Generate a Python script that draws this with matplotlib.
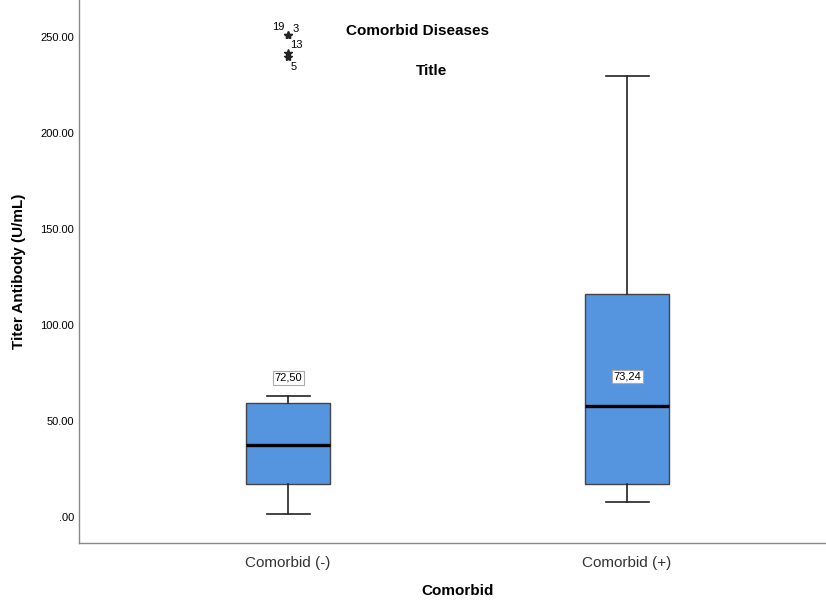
import matplotlib
matplotlib.use("Agg")
import matplotlib.pyplot as plt

plt.rcParams['font.family'] = ['Liberation Sans', 'DejaVu Sans']

categories = ["Comorbid (-)", "Comorbid (+)"]
whisker_low = [1.6, 7.8]
q1 = [17.2, 17.2]
median = [37.5, 57.8]
q3 = [59.4, 116.1]
whisker_high = [63.0, 229.7]
means = [72.50, 73.24]
mean_labels = ["72,50", "73,24"]
outlier_values = [251.0, 251.0, 241.5, 239.5]
outlier_ids = ["19", "3", "13", "5"]
yticks = [0, 50, 100, 150, 200, 250]
ytick_labels = [".00", "50.00", "100.00", "150.00", "200.00", "250.00"]

fig = plt.figure(figsize=(8.26, 6.0), dpi=100)
ax = fig.add_axes([79/826, 57/600, 747/826, 543/600])

stats = []
for i, c in enumerate(categories):
    stats.append(dict(label=c, whislo=whisker_low[i], q1=q1[i], med=median[i],
                      q3=q3[i], whishi=whisker_high[i], fliers=[]))

positions = [1, 2]
ax.bxp(stats, positions=positions, widths=0.248, patch_artist=True,
       showfliers=False, showcaps=True,
       boxprops=dict(facecolor='#5595E0', edgecolor='#444444', linewidth=1.0),
       medianprops=dict(color='black', linewidth=2.4),
       whiskerprops=dict(color='#222222', linewidth=1.2),
       capprops=dict(color='#222222', linewidth=1.2),
       capwidths=0.127)

# outliers for group 1
for v in outlier_values:
    ax.plot(1, v, marker='*', color='#222222', markersize=6, linestyle='none')
ax.text(0.97, 252.5, outlier_ids[0], fontsize=8, ha='center', va='bottom')
ax.text(1.022, 251.5, outlier_ids[1], fontsize=8, ha='center', va='bottom')
ax.text(1.025, 246.0, outlier_ids[2], fontsize=8, ha='center', va='center')
ax.text(1.015, 234.3, outlier_ids[3], fontsize=8, ha='center', va='center')

for p, m, lab in zip(positions, means, mean_labels):
    ax.text(p, m, lab, fontsize=8, ha='center', va='center',
            bbox=dict(boxstyle='square,pad=0.15', facecolor='white',
                      edgecolor='#aaaaaa', linewidth=0.8))

ax.set_xlim(0.383, 2.587)
ax.set_ylim(-13.5, 269.3)
ax.set_yticks(yticks)
ax.set_yticklabels(ytick_labels, fontsize=8)
ax.set_xticks(positions)
ax.set_xticklabels(categories, fontsize=11, color='#333333')
ax.tick_params(axis='both', length=0)
ax.tick_params(axis='y', pad=3.5)
ax.tick_params(axis='x', pad=9)
for s in ['top', 'right']:
    ax.spines[s].set_visible(False)
for s in ['left', 'bottom']:
    ax.spines[s].set_color('#888888')
    ax.spines[s].set_linewidth(1.0)

ax.set_ylabel("Titer Antibody (U/mL)", fontsize=11, fontweight='bold', labelpad=10)
fig.text(458/826, 1 - 591/600, "Comorbid", fontsize=11, fontweight='bold',
         ha='center', va='center')
fig.text(418/826, 1 - 31/600, "Comorbid Diseases", fontsize=11, fontweight='bold',
         ha='center', va='center')
fig.text(432/826, 1 - 71/600, "Title", fontsize=11, fontweight='bold',
         ha='center', va='center')

fig.savefig("out.png", dpi=100)
